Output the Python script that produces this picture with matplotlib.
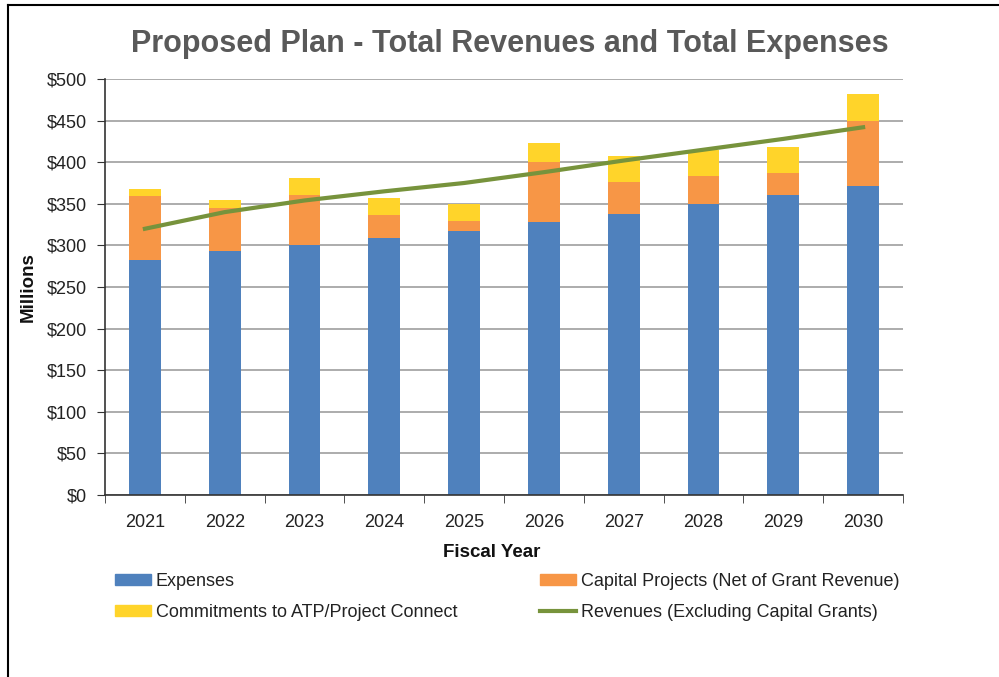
import matplotlib.pyplot as plt
from matplotlib.lines import Line2D
from matplotlib.patches import Patch
import numpy as np

# values in $ millions
years = ['2021', '2022', '2023', '2024', '2025', '2026', '2027', '2028', '2029', '2030']
expenses = [283, 293, 300, 309, 317, 328, 338, 350, 360, 371]
capital = [76, 52, 60, 27, 12, 72, 38, 33, 27, 79]
commitments = [9, 10, 21, 21, 21, 23, 31, 32, 31, 32]
revenues = [320, 340, 354, 365, 375, 388, 402, 415, 428, 442]
yticks = [0, 50, 100, 150, 200, 250, 300, 350, 400, 450, 500]

plt.rcParams['font.family'] = ['Liberation Sans', 'DejaVu Sans']

c_exp, c_cap, c_com, c_rev = '#4F81BD', '#F79646', '#FFD42A', '#77933C'

fig = plt.figure(figsize=(9.99, 6.77), dpi=100)
ax = fig.add_axes([105 / 999, 1 - 495 / 677, 798 / 999, 416 / 677])

x = np.arange(len(years))
exp_arr = np.array(expenses)
cap_arr = np.array(capital)
ax.bar(x, expenses, width=0.4, color=c_exp, zorder=2)
ax.bar(x, capital, width=0.4, bottom=exp_arr, color=c_cap, zorder=2)
ax.bar(x, commitments, width=0.4, bottom=exp_arr + cap_arr, color=c_com, zorder=2)
ax.plot(x, revenues, color=c_rev, linewidth=3, zorder=3)

ax.set_xlim(-0.5, len(years) - 0.5)
ax.set_ylim(0, 500)
ax.set_yticks(yticks)
ax.set_yticklabels(['$%d' % v for v in yticks])
ax.set_xticks(x)
ax.set_xticklabels(years)
ax.set_xticks(np.arange(-0.5, len(years), 1), minor=True)
ax.tick_params(axis='x', which='major', length=0, pad=14, labelsize=13, labelcolor='#222222')
ax.tick_params(axis='x', which='minor', length=6, direction='out', color='#333333')
ax.tick_params(axis='y', length=6, direction='out', pad=7, labelsize=13,
	labelcolor='#222222', color='#333333')

ax.grid(axis='y', color='#a6a6a6', linewidth=1.3, zorder=0)
ax.set_axisbelow(True)
for side in ['top', 'right']:
	ax.spines[side].set_visible(False)
for side in ['left', 'bottom']:
	ax.spines[side].set_color('#333333')
	ax.spines[side].set_linewidth(1.2)

ax.set_xlabel('Fiscal Year', fontsize=13.5, fontweight='bold', color='#111111')
ax.xaxis.set_label_coords((492 - 105) / 798, -0.118)
ax.set_ylabel('Millions', fontsize=13.5, fontweight='bold', color='#111111')
ax.yaxis.set_label_coords(-0.085, 0.5)

fig.text(0.51, 1 - 44 / 677, 'Proposed Plan - Total Revenues and Total Expenses',
	ha='center', va='center', fontsize=22, fontweight='bold', color='#595959')

leg_kw = dict(loc='upper left', frameon=False, fontsize=13, handlelength=2.0,
	handleheight=0.55, handletextpad=0.25, labelspacing=0.75, borderpad=0,
	borderaxespad=0, labelcolor='#222222')
leg1 = fig.legend([Patch(color=c_exp), Patch(color=c_com)],
	['Expenses', 'Commitments to ATP/Project Connect'],
	bbox_to_anchor=(115 / 999, 1 - 573 / 677), **leg_kw)
leg2 = fig.legend([Patch(color=c_cap), Line2D([], [], color=c_rev, linewidth=3)],
	['Capital Projects (Net of Grant Revenue)', 'Revenues (Excluding Capital Grants)'],
	bbox_to_anchor=(540 / 999, 1 - 573 / 677), **leg_kw)

# frame lines around the picture (top and left only)
fig.add_artist(Line2D([7.5 / 999, 1], [1 - 5 / 677, 1 - 5 / 677], color='black', linewidth=1.5))
fig.add_artist(Line2D([7.5 / 999, 7.5 / 999], [0, 1 - 5 / 677], color='black', linewidth=1.5))

fig.savefig('out.png', dpi=100)
